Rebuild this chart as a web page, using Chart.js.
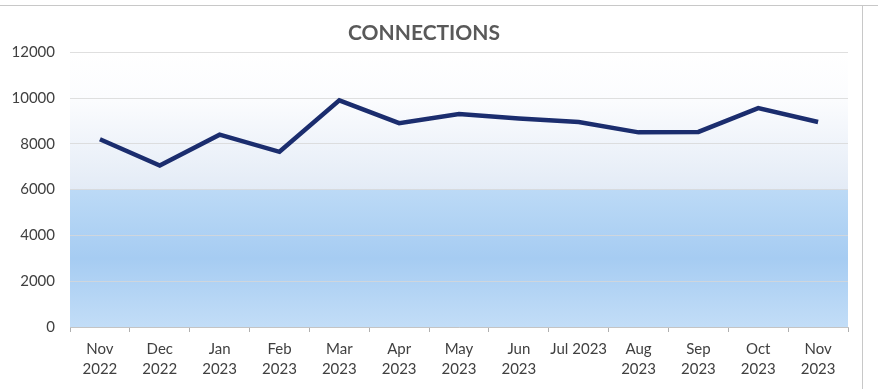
<!DOCTYPE html>
<html>
<head>
<meta charset="utf-8">
<script src="https://cdn.jsdelivr.net/npm/chart.js@4.4.0/dist/chart.umd.min.js"></script>
<style>
  html, body { margin: 0; padding: 0; background: #ffffff; }
  #wrap { width: 878px; height: 389px; }
</style>
</head>
<body>
<div id="wrap"><canvas id="myChart" width="878" height="389"></canvas></div>
<script>
// dados do gráfico
const months = [['Nov', '2022'], ['Dec', '2022'], ['Jan', '2023'], ['Feb', '2023'], ['Mar', '2023'],
    ['Apr', '2023'], ['May', '2023'], ['Jun', '2023'], ['Jul 2023', ''], ['Aug', '2023'],
    ['Sep', '2023'], ['Oct', '2023'], ['Nov', '2023']];
const connections = [8200, 7050, 8400, 7650, 9900, 8900, 9300, 9100, 8950, 8500, 8520, 9560, 8950];
const yTicks = [0, 2000, 4000, 6000, 8000, 10000, 12000];

// fundo azul da área do gráfico (aspecto do original)
const areaBackground = {
    id: 'areaBackground',
    beforeDraw(chart) {
        const { ctx, chartArea: a, scales } = chart;
        const y6 = scales.y.getPixelForValue(6000);
        ctx.save();
        let g = ctx.createLinearGradient(0, a.top, 0, y6);
        g.addColorStop(0, '#ffffff');
        g.addColorStop(0.35, '#fbfcfe');
        g.addColorStop(1, '#e3ebf6');
        ctx.fillStyle = g;
        ctx.fillRect(a.left, a.top, a.right - a.left, y6 - a.top);
        g = ctx.createLinearGradient(0, y6, 0, a.bottom);
        g.addColorStop(0, '#bcdaf6');
        g.addColorStop(0.5, '#a6ccf2');
        g.addColorStop(1, '#c2ddf7');
        ctx.fillStyle = g;
        ctx.fillRect(a.left, y6, a.right - a.left, a.bottom - y6);
        // moldura
        ctx.strokeStyle = '#c8c8c8';
        ctx.lineWidth = 1;
        ctx.beginPath();
        ctx.moveTo(0, 5.5);
        ctx.lineTo(chart.width, 5.5);
        ctx.moveTo(862.5, 5);
        ctx.lineTo(862.5, 389);
        ctx.stroke();
        ctx.restore();
    }
};

window.onload = function() {
    var ctx = document.getElementById('myChart').getContext('2d');
    var myChart = new Chart(ctx, {
        type: 'line',
        data: {
            labels: months,
            datasets: [{
                label: 'Connections',
                data: connections,
                borderColor: '#1b2d6e',
                borderWidth: 4.5,
                pointRadius: 0,
                tension: 0,
                fill: false
            }]
        },
        plugins: [areaBackground],
        options: {
            responsive: false,
            animation: false,
            layout: { padding: { top: 10, right: 30, left: 0, bottom: 0 } },
            plugins: {
                legend: { display: false },
                tooltip: { enabled: false },
                title: {
                    display: true,
                    text: 'CONNECTIONS',
                    color: '#595959',
                    font: { family: 'Lato', size: 21, weight: 'bold' },
                    padding: { top: 11, bottom: 6 }
                }
            },
            scales: {
                x: {
                    offset: true,
                    afterFit: function(scale) { scale.height = 62; },
                    grid: { display: true, drawOnChartArea: false, drawTicks: true, tickLength: 5, color: '#b0b0b0', offset: true },
                    border: { display: true, color: '#c4c4c4' },
                    ticks: {
                        color: '#404040',
                        font: { family: 'Lato', size: 15, lineHeight: 1.35 },
                        padding: 7,
                        maxRotation: 0,
                        autoSkip: false
                    }
                },
                y: {
                    min: 0,
                    max: 12000,
                    afterFit: function(scale) { scale.width = 70; },
                    afterBuildTicks: function(scale) { scale.ticks = yTicks.map(v => ({ value: v })); },
                    grid: { color: 'rgba(215,215,215,0.8)', drawTicks: false },
                    border: { display: false },
                    ticks: {
                        color: '#404040',
                        font: { family: 'Lato', size: 15 },
                        padding: 15,
                        callback: function(value) { return String(value); }
                    }
                }
            }
        }
    });
};
</script>
</body>
</html>
